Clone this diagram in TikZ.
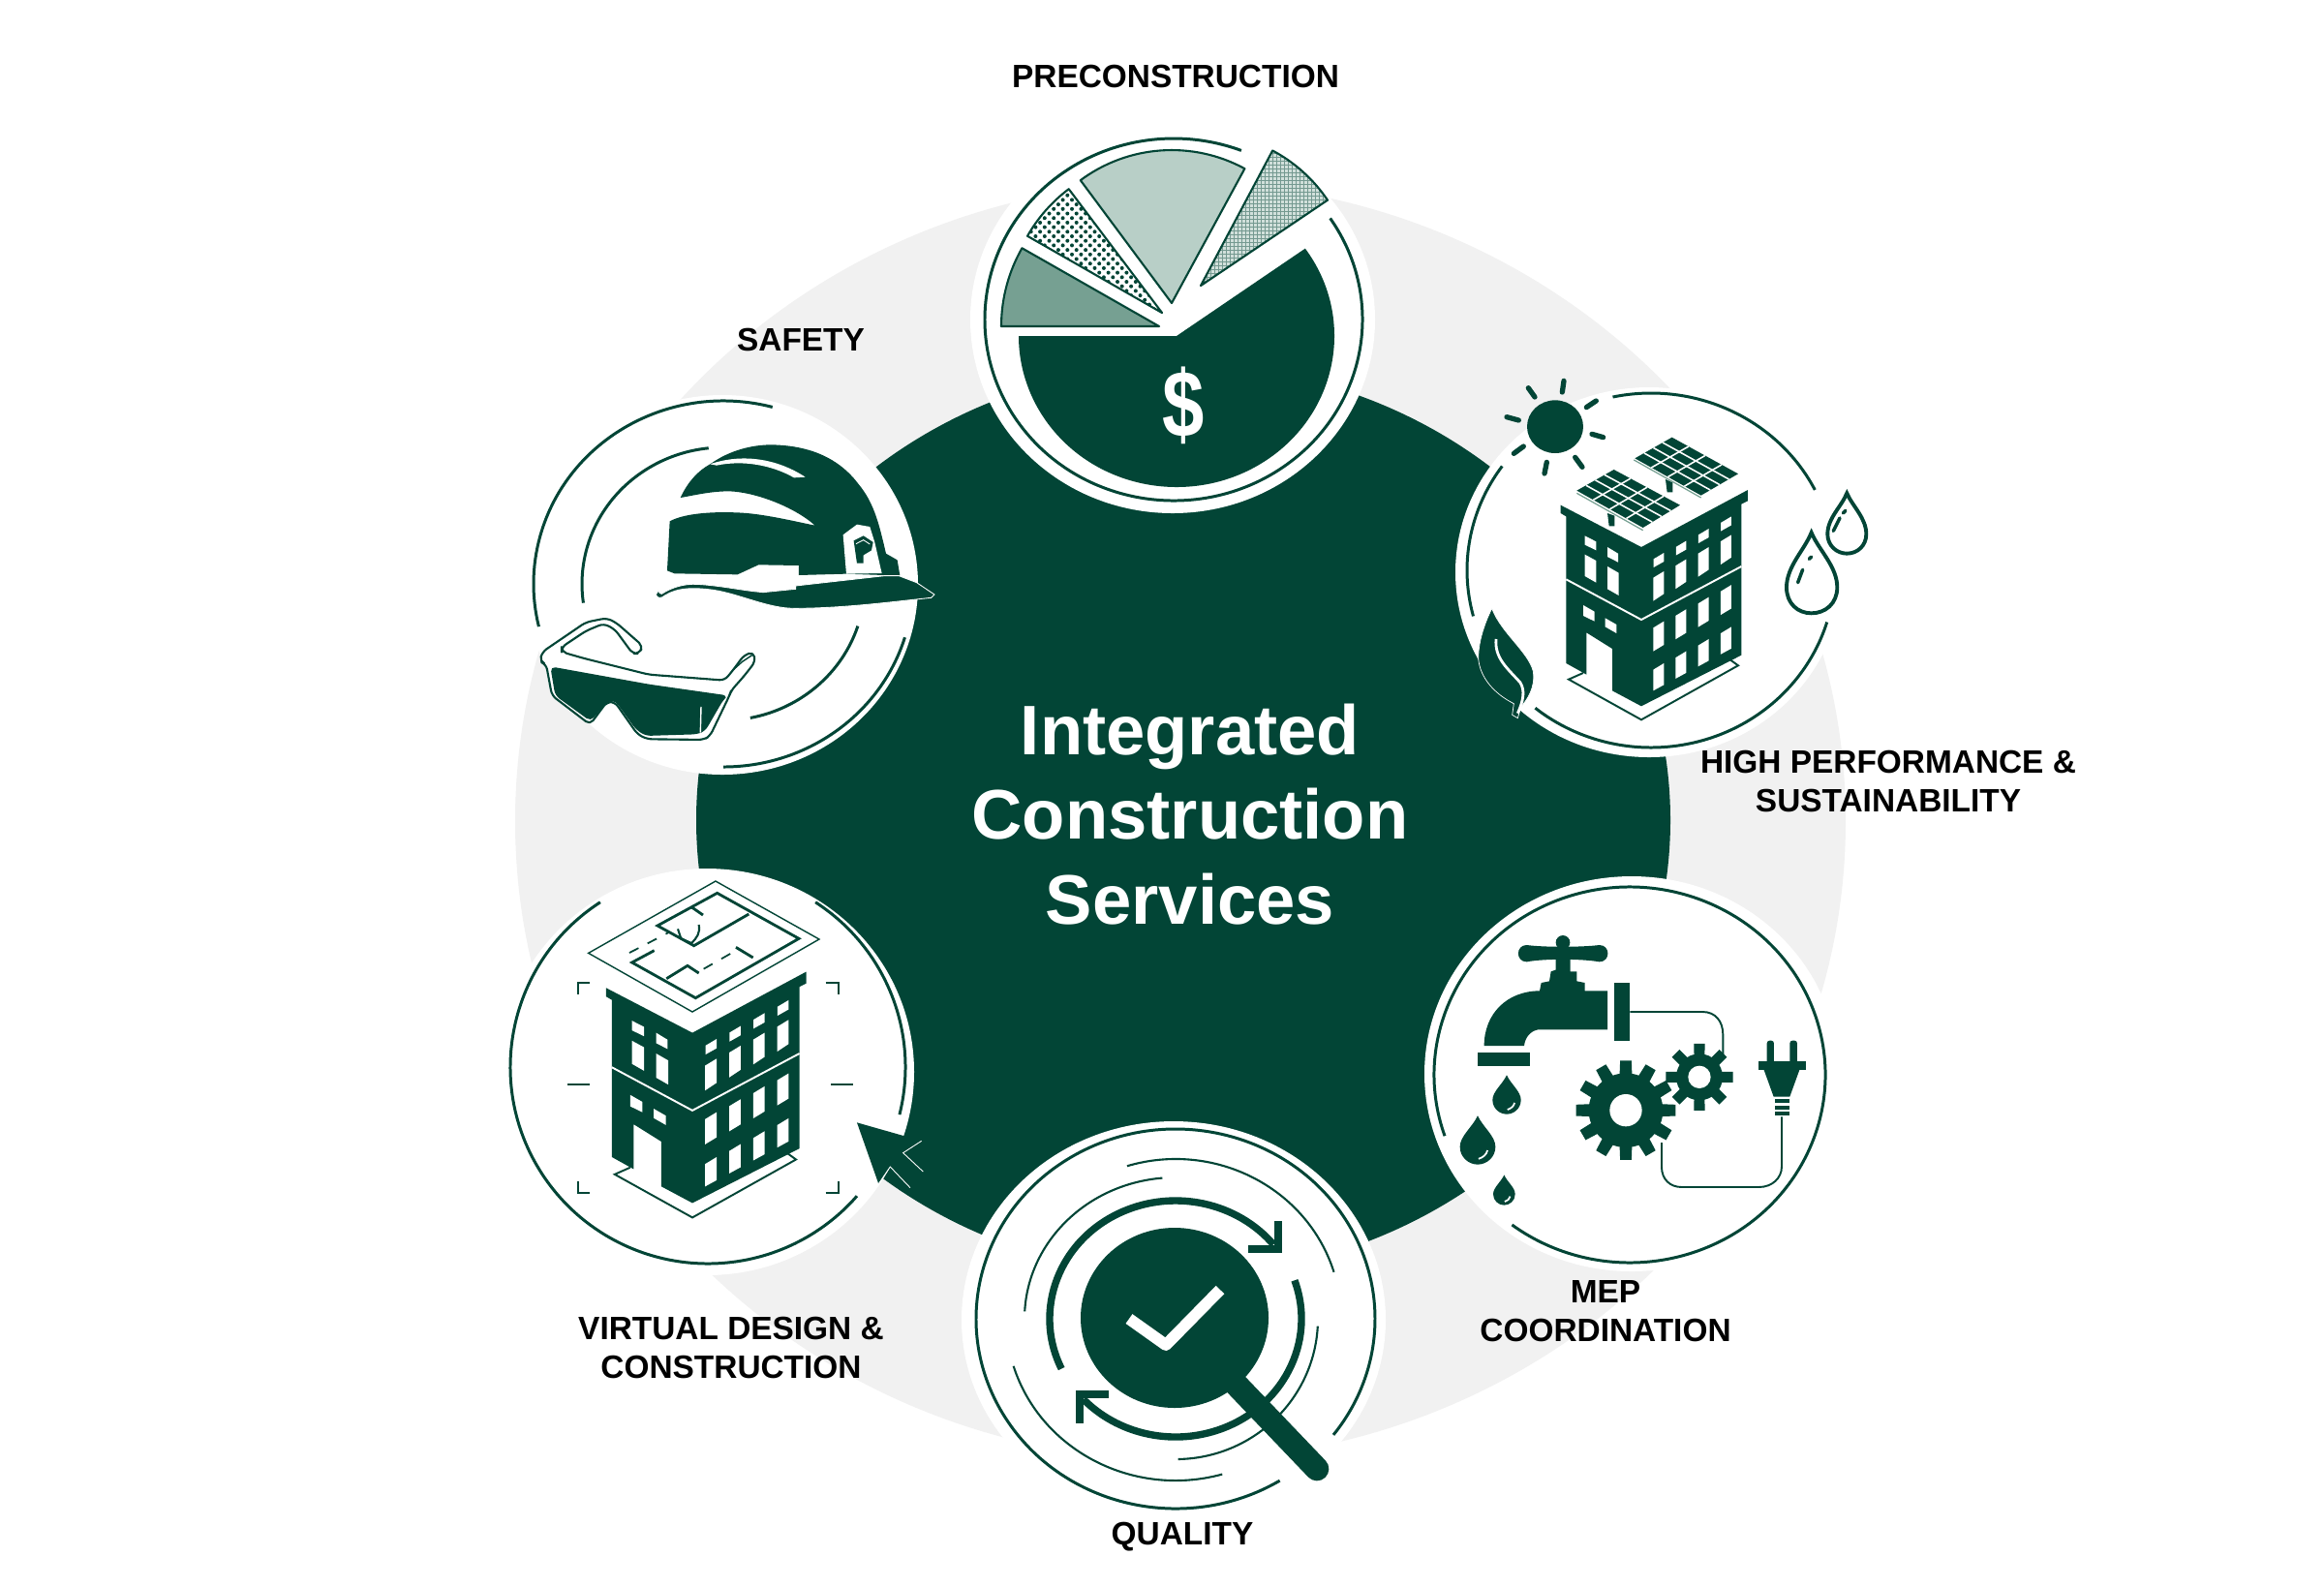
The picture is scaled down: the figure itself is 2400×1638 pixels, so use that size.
\documentclass[tikz,border=0pt]{standalone}
\usepackage{fontspec}
\setmainfont{Liberation Sans}
\usepackage{xcolor}
\usetikzlibrary{calc}
\definecolor{pgreen}{HTML}{024536}
\definecolor{pmid}{HTML}{76A092}
\definecolor{plight}{HTML}{B8CFC7}
\definecolor{pgrey}{HTML}{F1F1F1}
\tikzset{
    ringline/.style={pgreen,line width=0.85pt},
    iconfill/.style={fill=pgreen},
    wedgeline/.style={draw=pgreen,line width=0.6pt,line join=round},
    thinwhite/.style={white,line width=0.45pt},
    caplabel/.style={font=\fontsize{9.5}{11.4}\selectfont\bfseries,align=center,text=black,inner sep=0pt},
}
% arc of an ellipse: centre x, y, radii, start, end
\newcommand{\ringarc}[7][ringline]{\draw[#1] ([shift={(#2,#3)}]#6:#4 and #5) arc (#6:#7:#4 and #5);}
\newcommand{\wedgepath}[5]{(#1,#2) -- ([shift={(#1,#2)}]#4:#3) arc (#4:#5:#3) -- cycle}
\newcommand{\solarpanel}[4]{
    \fill[iconfill] (#1) -- (#2) -- (#3) -- (#4) -- cycle;
    \foreach \i in {0.25,0.5,0.75} {
        \draw[thinwhite] ($(#1)!\i!(#2)$) -- ($(#4)!\i!(#3)$);
        \draw[thinwhite] ($(#1)!\i!(#4)$) -- ($(#2)!\i!(#3)$);
    }
}
\newcommand{\gearwheel}[7]{
    % x, y, outer, body, hole, teeth step, half width
    \fill[iconfill] (#1,#2) circle (#4);
    \foreach \a in {0,#6,...,359} {
        \fill[iconfill,shift={(#1,#2)}] (\a-#7:#4-4) -- (\a-0.65*#7:#3) -- (\a+0.65*#7:#3) -- (\a+#7:#4-4) -- cycle;
    }
    \fill[white] (#1,#2) circle (#5);
}
\newcommand{\waterdrop}[3]{
    \begin{scope}[shift={(#1,#2)},scale=#3]
        \fill[iconfill] (0,-1.75) .. controls (-0.3,-1.1) and (-1,-0.6) .. (-1,0) .. controls (-1,0.6) and (-0.5,1) .. (0,1) .. controls (0.5,1) and (1,0.6) .. (1,0) .. controls (1,-0.6) and (0.3,-1.1) .. (0,-1.75);
        \draw[white,line width=0.5pt] (0.05,0.68) .. controls (0.3,0.6) and (0.5,0.45) .. (0.55,0.2);
    \end{scope}
}
\newcommand{\towerblock}{
    \fill[iconfill] (395,425) -- (645,555) -- (975,378) -- (975,412) -- (955,422) -- (955,890) -- (645,1048) -- (555,1000) -- (555,870) -- (475,820) -- (475,950) -- (412,915) -- (412,460) -- (395,450) -- cycle;
    \draw[white,line width=0.55pt] (412,655) -- (645,780) -- (955,615);
    % left wall windows
    \fill[white] (470,520) -- (505,538) -- (505,565) -- (470,548) -- cycle;
    \fill[white] (540,555) -- (573,575) -- (573,602) -- (540,585) -- cycle;
    \fill[white] (470,578) -- (505,597) -- (505,665) -- (470,645) -- cycle;
    \fill[white] (540,615) -- (575,635) -- (575,705) -- (540,685) -- cycle;
    \fill[white] (465,735) -- (500,755) -- (500,785) -- (465,768) -- cycle;
    \fill[white] (533,775) -- (568,795) -- (568,822) -- (533,802) -- cycle;
    % right wall windows
    \foreach \c in {0,1,2,3} {
        \begin{scope}[shift={(69.5*\c,-37.5*\c)}]
            \fill[white] (683,592) -- (715,573) -- (715,600) -- (683,618) -- cycle;
            \fill[white] (682,650) -- (715,630) -- (715,700) -- (682,722) -- cycle;
            \fill[white] (682,805) -- (715,785) -- (715,858) -- (682,878) -- cycle;
            \fill[white] (682,935) -- (715,915) -- (715,982) -- (682,1000) -- cycle;
        \end{scope}
    }
    \draw[pgreen,line width=0.55pt] (465,945) -- (420,965) -- (645,1090) -- (945,922) -- (912,898);
}
\begin{document}
\begin{tikzpicture}[x=0.01cm,y=-0.01cm]
    \useasboundingbox (0,0) rectangle (2400,1638);
    \fill[white] (0,0) rectangle (2400,1638);

    % backdrop
    \fill[pgrey] (1219,848) ellipse (687 and 660);
    \fill[pgreen] (1222,847) ellipse (503 and 470);

    \fill[white] (1211,330) ellipse (209 and 200);
    \fill[white] (746,604) ellipse (202 and 196);
    \fill[white] (1703,591) ellipse (200 and 191);
    \fill[white] (1685,1109) ellipse (214 and 204);
    \fill[white] (1212,1363) ellipse (219 and 205);
    \fill[white] (730,1107) ellipse (214 and 210);

    % preconstruction
    \ringarc{1212}{330}{195}{187}{-34}{291}
    \fill[iconfill] (1215,347) -- ([shift={(1215,347)}]-35.4:163 and 156) arc (-35.4:180:163 and 156) -- cycle;
    \node[text=white,font=\fontsize{27}{27}\selectfont\bfseries,inner sep=0pt,xscale=0.82,yscale=1.03] (lbldollar) at (1222,419) {\$};
    \draw[wedgeline,fill=pmid] \wedgepath{1197}{337}{163}{180}{209.7};
    \begin{scope}
        \clip \wedgepath{1200}{323}{160}{209.7}{233};
        \foreach \i in {0,...,15} {
            \foreach \j in {0,...,15} {
                \fill[pgreen] (1060+9.4*\i,197+9.4*\j) circle (2);
                \fill[pgreen] (1064.7+9.4*\i,201.7+9.4*\j) circle (2);
            }
        }
    \end{scope}
    \draw[wedgeline] \wedgepath{1200}{323}{160}{209.7}{233};
    \draw[wedgeline,fill=plight] \wedgepath{1210}{313}{158}{233.4}{298.5};
    \begin{scope}
        \clip \wedgepath{1240}{295}{158}{-62}{-34};
        \fill[plight!65] (1230,150) rectangle (1380,300);
        \foreach \i in {0,...,37} {
            \draw[pgreen!55,line width=0.22pt] (1230+4*\i,150) -- (1230+4*\i,300);
            \draw[pgreen!55,line width=0.22pt] (1230,150+4*\i) -- (1380,150+4*\i);
        }
    \end{scope}
    \draw[wedgeline] \wedgepath{1240}{295}{158}{-62}{-34};

    % safety
    \ringarc{747}{603}{196}{189}{-75}{-193.5}
    \ringarc{747}{603}{196}{189}{90}{17}
    \ringarc{747}{603}{146}{141}{-96}{-188}
    \ringarc{747}{603}{146}{141}{79}{18}
    \begin{scope}[shift={(520,390)},scale=0.3333]
        \fill[iconfill] (548,372) .. controls (570,325) and (600,290) .. (640,268) .. controls (700,225) and (770,208) .. (830,208) .. controls (950,210) and (1040,250) .. (1100,330) .. controls (1150,390) and (1165,460) .. (1185,545) -- (1220,565) -- (1228,612) -- (1180,612) -- (1060,608) -- (915,612) -- (915,582) -- (790,580) -- (725,610) -- (530,607) -- (507,598) -- (515,445) .. controls (560,420) and (650,415) .. (720,418) .. controls (800,420) and (900,445) .. (965,458) .. controls (900,400) and (780,355) .. (700,352) .. controls (640,352) and (590,365) .. (548,372) -- cycle;
        \fill[white] (640,268) .. controls (720,240) and (830,240) .. (935,308) -- (900,310) .. controls (830,270) and (740,255) .. (660,272) -- cycle;
        \fill[white] (1052,487) -- (1095,455) -- (1135,462) -- (1150,510) -- (1172,606) -- (1062,608) -- cycle;
        \fill[iconfill] (1085,505) -- (1115,490) -- (1145,510) -- (1140,535) -- (1115,550) -- (1115,575) -- (1095,575) -- cycle;
        \draw[white,line width=0.25pt] (1092,515) -- (1115,503) -- (1135,516);
        \draw[white,line width=0.25pt,fill=pgreen] (472,672) .. controls (475,685) and (490,685) .. (500,675) .. controls (540,650) and (590,650) .. (650,658) .. controls (730,670) and (820,715) .. (900,715) .. controls (1050,715) and (1200,695) .. (1325,682) -- (1335,672) -- (1280,635) -- (1225,614) -- (1180,614) -- (905,645) -- (905,655) -- (805,665) .. controls (740,660) and (680,645) .. (600,640) .. controls (560,638) and (520,650) .. (490,670) .. controls (485,672) and (482,665) .. (480,660) -- cycle;
        % glasses
        \draw[pgreen,line width=0.6pt,fill=white,line join=round,rounded corners=1.5pt] (112,880) -- (120,850) -- (255,758) -- (320,745) -- (350,760) -- (432,832) -- (420,855) -- (400,855) -- (345,780) -- (310,762) -- (255,785) -- (180,835) -- (180,850) -- (250,870) -- (450,920) -- (685,938) -- (712,905) -- (745,860) -- (775,850) -- (780,880) -- (745,925) -- (705,970) -- (700,985) -- (640,1110) -- (620,1122) -- (445,1120) -- (415,1105) -- (345,1005) -- (320,1005) -- (268,1075) -- (150,985) -- (132,888) -- cycle;
        \draw[pgreen,line width=0.4pt] (712,905) -- (740,880) -- (770,860);
        \fill[iconfill,rounded corners=1.5pt] (145,895) -- (160,985) -- (270,1065) -- (320,1005) -- (345,1000) -- (410,1090) -- (440,1110) -- (600,1105) -- (625,1095) -- (680,1000) -- (695,985) -- (450,950) -- cycle;
        \draw[white,line width=0.4pt] (612,1020) -- (610,1100);
    \end{scope}

    % high performance
    \ringarc{1705}{589}{190}{183}{-102}{-27}
    \ringarc{1705}{589}{190}{183}{17}{129}
    \ringarc{1705}{589}{190}{183}{165}{216}
    \begin{scope}[shift={(1480,380)},scale=0.3333]
        \fill[iconfill] (378,182) ellipse (87 and 82);
        \foreach \xa/\ya/\xb/\yb in {405/40/400/75,295/62/315/90,505/102/475/122,228/152/265/162,492/205/527/215,250/265/280/243,352/292/345/327,440/277/462/307} {
            \draw[pgreen,line width=1.5pt,line cap=round] (\xa,\ya) -- (\xb,\yb);
        }
        \solarpanel{445,380}{650,495}{765,425}{560,315}
        \solarpanel{625,280}{830,395}{945,328}{740,215}
        \draw[pmid,line width=0.35pt] (445,388) -- (650,503);
        \draw[pmid,line width=0.35pt] (622,285) -- (830,402);
        \fill[iconfill] (540,450) -- (562,458) -- (562,490) -- (545,490) -- cycle;
        \fill[iconfill] (720,345) -- (742,355) -- (742,385) -- (725,385) -- cycle;
        \towerblock
        \draw[pgreen,line width=1.1pt,fill=white] (1172,510) .. controls (1150,565) and (1095,615) .. (1095,680) .. controls (1095,730) and (1130,760) .. (1172,760) .. controls (1215,760) and (1252,730) .. (1252,680) .. controls (1252,615) and (1195,565) .. (1172,510) -- cycle;
        \draw[pgreen,line width=1pt,line cap=round] (1130,665) -- (1145,625);
        \draw[pgreen,line width=1pt,line cap=round] (1165,592) -- (1172,585);
        \draw[pgreen,line width=1.1pt,fill=white] (1282,388) .. controls (1265,430) and (1222,465) .. (1222,515) .. controls (1222,550) and (1250,575) .. (1282,575) .. controls (1315,575) and (1342,550) .. (1342,515) .. controls (1342,465) and (1300,430) .. (1282,388) -- cycle;
        \draw[pgreen,line width=1pt,line cap=round] (1240,505) -- (1260,465);
        \draw[pgreen,line width=1pt,line cap=round] (1270,450) -- (1278,442);
        % leaf
        \draw[white,line width=0.2pt,fill=pgreen] (182,745) .. controls (165,780) and (140,840) .. (140,900) .. controls (145,960) and (190,1010) .. (250,1040) -- (245,1075) -- (262,1085) -- (272,1050) .. controls (290,1030) and (318,990) .. (310,940) .. controls (295,880) and (210,820) .. (182,745) -- cycle;
        \draw[white,line width=0.8pt] (195,840) .. controls (190,900) and (230,930) .. (270,975) .. controls (285,1000) and (280,1030) .. (262,1070);
    \end{scope}

    % mep coordination
    \ringarc{1683}{1110}{202}{194}{161}{487}
    \begin{scope}[shift={(1460,890)},scale=0.3333]
        \fill[iconfill] (218,570) .. controls (218,470) and (290,400) .. (390,400) -- (395,375) -- (420,370) -- (425,340) -- (440,335) -- (440,270) -- (485,270) -- (485,340) -- (505,340) -- (505,370) -- (530,375) -- (530,400) -- (600,400) -- (600,520) -- (385,520) .. controls (360,525) and (345,545) .. (342,570) -- cycle;
        \fill[iconfill] (462,250) circle (22);
        \fill[iconfill] (350,258) .. controls (400,265) and (520,265) .. (575,258) .. controls (610,258) and (610,310) .. (575,310) .. controls (520,300) and (400,300) .. (350,310) .. controls (315,310) and (315,258) .. (350,258) -- cycle;
        \fill[iconfill] (620,375) rectangle (670,555);
        \fill[iconfill] (198,592) rectangle (360,632);
        \draw[pgreen,line width=0.55pt] (670,465) -- (895,465) .. controls (935,465) and (958,495) .. (958,535) -- (958,598);
        \draw[pgreen,line width=0.55pt] (768,870) -- (768,945) .. controls (768,985) and (795,1008) .. (830,1008) -- (1070,1008) .. controls (1110,1008) and (1140,980) .. (1140,945) -- (1140,790);
        \gearwheel{657}{770}{155}{115}{50}{30}{10}
        \gearwheel{885}{667}{105}{72}{35}{45}{14}
        % plug
        \fill[iconfill,rounded corners=0.8pt] (1094,625) rectangle (1116,554);
        \fill[iconfill,rounded corners=0.8pt] (1165,625) rectangle (1188,554);
        \fill[iconfill] (1067,618) rectangle (1215,645);
        \fill[iconfill] (1085,645) -- (1195,645) -- (1165,728) -- (1115,728) -- cycle;
        \fill[iconfill] (1118,735) rectangle (1165,747);
        \fill[iconfill] (1118,755) rectangle (1165,767);
        \fill[iconfill] (1118,775) rectangle (1165,787);
        \waterdrop{288}{738}{44}
        \waterdrop{198}{883}{55}
        \waterdrop{280}{1030}{34}
    \end{scope}

    % quality
    \ringarc{1214}{1362}{206}{196}{58.5}{397.7}
    \ringarc[pgreen,line width=0.6pt]{1214}{1362}{171}{165}{-107}{-17}
    \ringarc[pgreen,line width=0.6pt]{1214}{1362}{156}{146}{-95}{-177}
    \ringarc[pgreen,line width=0.6pt]{1214}{1362}{175}{167}{163}{74}
    \ringarc[pgreen,line width=0.6pt]{1214}{1362}{147}{145}{3}{89}
    \ringarc[pgreen,line width=2.1pt]{1214}{1362}{130}{122}{155}{321}
    \ringarc[pgreen,line width=2.1pt]{1214}{1362}{130}{122}{-19}{137}
    \draw[pgreen,line width=2.1pt] (1320,1261) -- (1320,1290) -- (1289,1290);
    \draw[pgreen,line width=2.1pt] (1145,1440) -- (1115,1440) -- (1115,1470);
    \draw[white,line width=3.5pt] (1262,1417) -- (1330,1487);
    \fill[iconfill] (1213,1361) ellipse (97 and 93);
    \draw[pgreen,line width=7pt,line cap=round] (1272,1425) -- (1360,1517);
    \draw[white,line width=3.4pt,line join=round] (1166,1362) -- (1204,1389) -- (1260,1332);

    % virtual design and construction
    \ringarc{731}{1102}{204}{203}{237}{41}
    \ringarc{731}{1102}{204}{203}{-57}{14}
    \begin{scope}[shift={(510,880)},scale=0.3333]
        \foreach \xa/\ya/\xb/\yb/\xc/\yc in {298/405/260/405/260/442,1028/405/1067/405/1067/442,260/1020/260/1055/298/1055,1028/1055/1067/1055/1067/1020} {
            \draw[pgreen,line width=0.6pt] (\xa,\ya) -- (\xb,\yb) -- (\xc,\yc);
        }
        \draw[pgreen,line width=0.6pt] (228,720) -- (297,720);
        \draw[pgreen,line width=0.6pt] (1045,720) -- (1113,720);
        \draw[pgreen,line width=0.4pt] (293,313) -- (687,90) -- (1008,270) -- (615,495) -- cycle;
        \draw[pgreen,line width=0.8pt] (497,305) -- (428,342) -- (625,452) -- (945,268) -- (692,127) -- (507,228) -- (620,290) -- (790,192);
        \draw[pgreen,line width=0.8pt] (535,392) -- (600,352) -- (635,375);
        \draw[pgreen,line width=0.8pt] (750,295) -- (803,327);
        \draw[pgreen,line width=0.8pt] (612,170) -- (648,195);
        \draw[pgreen,line width=0.6pt] (570,238) -- (580,268) -- (612,282);
        \draw[pgreen,line width=0.6pt] (635,225) .. controls (640,250) and (630,265) .. (612,282);
        \draw[pgreen,line width=0.5pt,dashed] (420,312) -- (540,250);
        \draw[pgreen,line width=0.5pt,dashed] (650,362) -- (750,305);
        \begin{scope}[shift={(-75,-34)},scale=1.07]
            \towerblock
        \end{scope}
        \fill[iconfill] (1125,838) -- (1325,895) -- (1268,932) -- (1330,990) -- (1290,1040) -- (1228,975) -- (1192,1028) -- cycle;
        \draw[white,line width=0.25pt] (1325,895) -- (1268,932) -- (1330,990);
        \draw[white,line width=0.25pt] (1290,1040) -- (1228,975) -- (1192,1028);
    \end{scope}

    % labels
    \node[text=white,font=\fontsize{20.6}{24.8}\selectfont\bfseries,align=center,inner sep=0pt] (lblcenter) at (1229,841) {Integrated\\Construction\\Services};
    \node[caplabel] (lblpre) at (1214,79) {PRECONSTRUCTION};
    \node[caplabel] (lblsafety) at (827,351) {SAFETY};
    \node[caplabel] (lblhigh) at (1950,807) {HIGH PERFORMANCE \&\\SUSTAINABILITY};
    \node[caplabel] (lblmep) at (1658,1354) {MEP\\COORDINATION};
    \node[caplabel] (lblquality) at (1221,1587) {QUALITY};
    \node[caplabel] (lblvirtual) at (755,1392) {VIRTUAL DESIGN \&\\CONSTRUCTION};
\end{tikzpicture}
\end{document}
